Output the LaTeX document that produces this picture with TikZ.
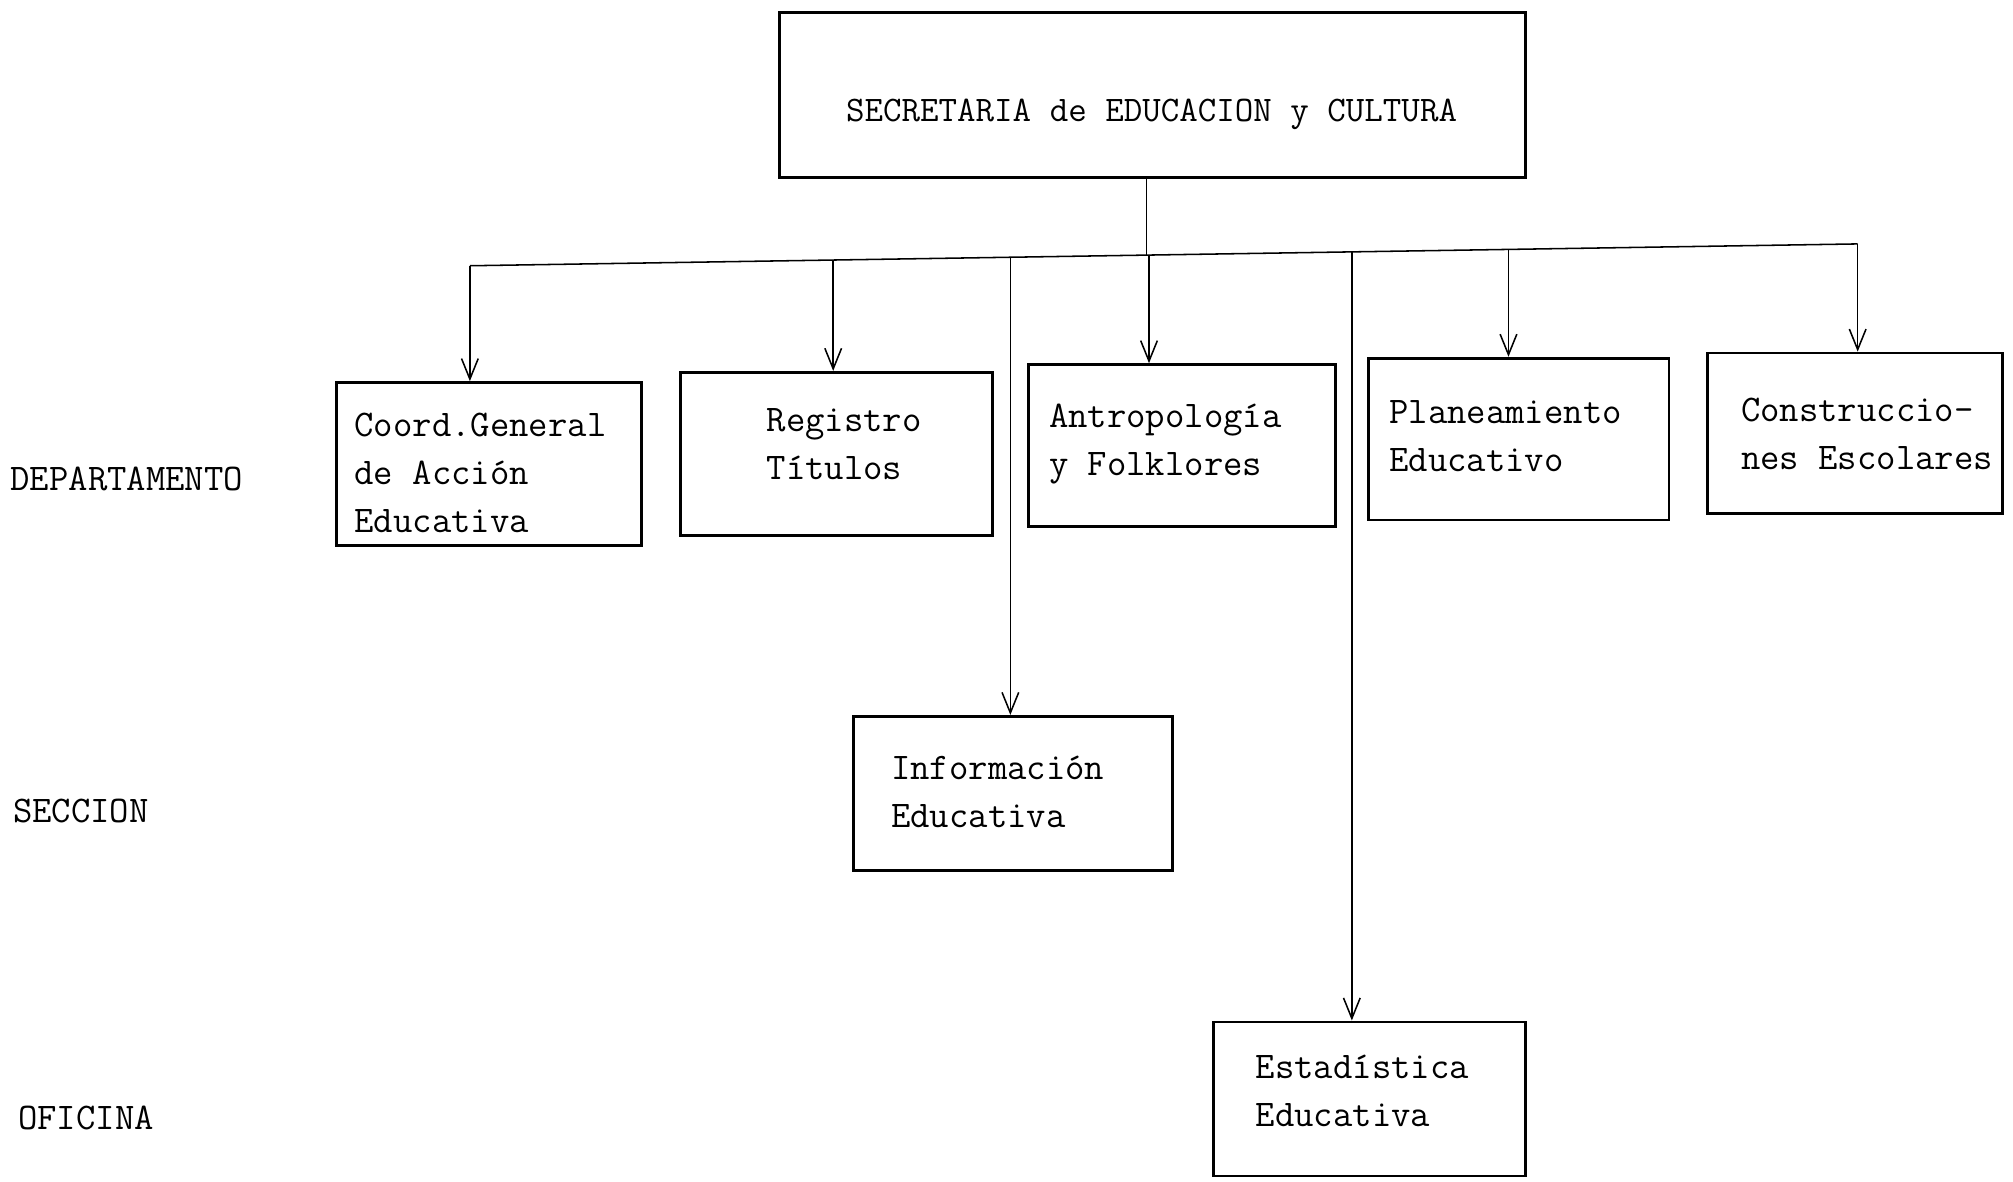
\documentclass[tikz,border=0pt]{standalone}
\usepackage{fontspec}
\usetikzlibrary{arrows.meta}
\begin{document}
\begin{tikzpicture}[x=1pt,y=-1pt,
  box/.style={draw, line width=2.2pt, inner sep=0pt},
  txt/.style={anchor=base west, inner sep=0pt, font=\ttfamily\fontsize{29.3}{37.5}\selectfont},
  conn/.style={line width=1.2pt},
  arr/.style={conn, -{Straight Barb[length=16pt,width=13pt,line width=1.2pt]}}
]
\useasboundingbox (0,0) rectangle (1568,920);
% boxes
\node[box, minimum width=581pt, minimum height=128pt] (B0) at (897.5,74) {};
\node[box, minimum width=238pt, minimum height=127pt] (B1) at (381,361.5) {};
\node[box, minimum width=243pt, minimum height=127pt] (B2) at (651.5,353.5) {};
\node[box, minimum width=239pt, minimum height=126pt] (B3) at (920.5,347) {};
\node[box, minimum width=234pt, minimum height=126pt] (B4) at (1183,342) {};
\node[box, minimum width=230pt, minimum height=125pt] (B5) at (1445,337.5) {};
\node[box, minimum width=248pt, minimum height=120pt] (B6) at (789,618) {};
\node[box, minimum width=243pt, minimum height=120pt] (B7) at (1066.5,856) {};
% texts
\node[anchor=base, inner sep=0pt, font=\ttfamily\fontsize{28}{34}\selectfont] (T0) at (897,95) {SECRETARIA de EDUCACION y CULTURA};
\node[txt] (T1) at (276,340) {\begin{tabular}[t]{@{}l@{}}Coord.General\\de Acción\\Educativa\end{tabular}};
\node[txt] (T2) at (597,336) {\begin{tabular}[t]{@{}l@{}}Registro\\Títulos\end{tabular}};
\node[txt] (T3) at (817,333) {\begin{tabular}[t]{@{}l@{}}Antropología\\y Folklores\end{tabular}};
\node[txt] (T4) at (1082,330) {\begin{tabular}[t]{@{}l@{}}Planeamiento\\Educativo\end{tabular}};
\node[txt] (T5) at (1356,328) {\begin{tabular}[t]{@{}l@{}}Construccio-\\nes Escolares\end{tabular}};
\node[txt] (T6) at (694,607) {\begin{tabular}[t]{@{}l@{}}Información\\Educativa\end{tabular}};
\node[txt] (T7) at (978,840) {\begin{tabular}[t]{@{}l@{}}Estadística\\Educativa\end{tabular}};
% level labels
\node[txt] (L1) at (8,382) {DEPARTAMENTO};
\node[txt] (L2) at (10,641) {SECCION};
\node[txt] (L3) at (14,880) {OFICINA};
% bus
\coordinate (d1) at (366,207);
\coordinate (d2) at (649,202.5);
\coordinate (d6) at (787,200.3);
\coordinate (st) at (893,198.7);
\coordinate (d3) at (895,198.7);
\coordinate (d7) at (1053,196.2);
\coordinate (d4) at (1175,194.3);
\coordinate (d5) at (1447,190);
\draw[conn] (B0.south -| st) -- (st);
\draw[conn] (d1) -- (d5);
\draw[arr] (d1) -- (d1 |- B1.north);
\draw[arr] (d2) -- (d2 |- B2.north);
\draw[arr] (d3) -- (d3 |- B3.north);
\draw[arr] (d4) -- (d4 |- B4.north);
\draw[arr] (d5) -- (d5 |- B5.north);
\draw[arr] (d6) -- (d6 |- B6.north);
\draw[arr] (d7) -- (d7 |- B7.north);
\end{tikzpicture}
\end{document}
